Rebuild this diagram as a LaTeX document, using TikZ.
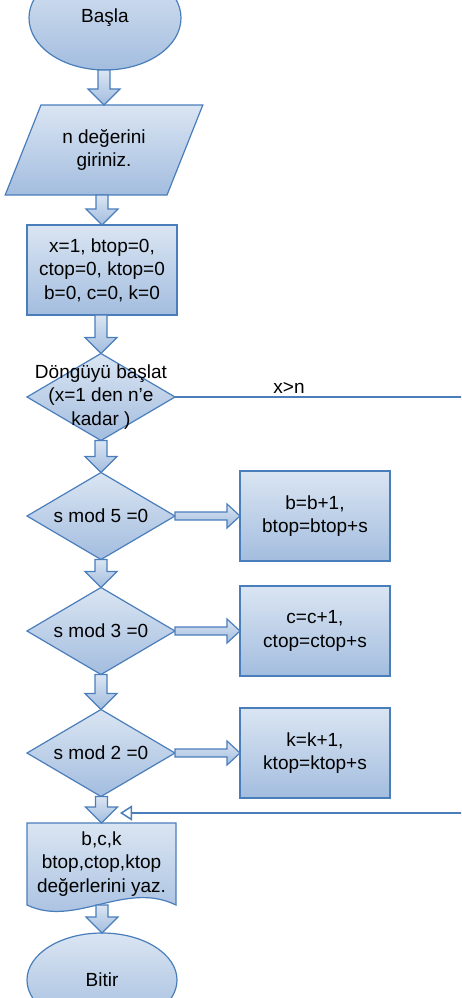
\documentclass[tikz,border=0pt]{standalone}
\usepackage{fontspec}
\setmainfont{Liberation Sans}
\usetikzlibrary{shapes.geometric, arrows.meta, positioning, calc, backgrounds}

\definecolor{shapetop}{HTML}{DAE5F2}
\definecolor{shapebot}{HTML}{A3BDDF}
\definecolor{shapeline}{HTML}{4A7EBB}

% fat hollow arrows between the blocks
\newcommand{\vblock}[2]{%
  \draw[blockarrow] let \p1=(#1.south), \p2=(#2.north) in
    (\x2-6pt,\y1) -- (\x2+6pt,\y1) -- (\x2+6pt,\y2+16pt) -- (\x2+16pt,\y2+16pt)
    -- (\x2,\y2) -- (\x2-16pt,\y2+16pt) -- (\x2-6pt,\y2+16pt) -- cycle;}
\newcommand{\hblock}[2]{%
  \draw[blockarrow] let \p1=(#1.east), \p2=(#2.west) in
    (\x1,\y2+4pt) -- (\x1,\y2-4pt) -- (\x2-13pt,\y2-4pt) -- (\x2-13pt,\y2-12pt)
    -- (\x2,\y2) -- (\x2-13pt,\y2+12pt) -- (\x2-13pt,\y2+4pt) -- cycle;}

\begin{document}
\begin{tikzpicture}[x=1pt, y=-1pt,
    every node/.style={font=\fontsize{19}{23.5}\selectfont, align=center},
    shaded/.style={draw=shapeline, line width=1.2pt, top color=shapetop, bottom color=shapebot, outer sep=0pt},
    terminal/.style={shaded, ellipse},
    io/.style={shaded, trapezium, trapezium left angle=62, trapezium right angle=118, trapezium stretches=true},
    process/.style={shaded, rectangle, minimum width=150pt, minimum height=90pt},
    decision/.style={shaded, diamond, inner sep=0pt, minimum width=148pt, minimum height=87pt},
    blockarrow/.style={draw=shapeline, line width=1.2pt, top color=shapetop, bottom color=shapebot, line join=miter},
    flowline/.style={draw=shapeline, line width=1.5pt}]
        \useasboundingbox (0,0) rectangle (461,998);
        \clip (0,0) rectangle (461,998);

        % Draw the blocks
        \node (start) [terminal, minimum width=152pt, minimum height=104pt] at (105,18) {Başla};
        \node (inp)   [io, minimum width=198pt, minimum height=90pt] at (104,150) {n değerini\\giriniz.};
        \node (init)  [process] at (102,270) {x=1, btop=0,\\ctop=0, ktop=0\\b=0, c=0, k=0};
        \node (loop)  [decision, label={center:Döngüyü başlat\\(x=1 den n'e\\kadar )}] at (101,397) {};
        \node (mod5)  [decision, label={center:s mod 5 =0}] at (101,516) {};
        \node (mod3)  [decision, label={center:s mod 3 =0}] at (101,631) {};
        \node (mod2)  [decision, label={center:s mod 2 =0}] at (101,753) {};
        \node (incb)  [process, right=65pt of mod5] {b=b+1,\\btop=btop+s};
        \node (incc)  [process, right=65pt of mod3] {c=c+1,\\ctop=ctop+s};
        \node (inck)  [process, right=65pt of mod2] {k=k+1,\\ktop=ktop+s};
        \node (out)   [minimum width=149pt, minimum height=82pt, outer sep=0pt] at (101.5,864) {b,c,k\\btop,ctop,ktop\\değerlerini yaz.};
        \node (stop)  [terminal, minimum width=150pt, minimum height=94pt] at (102,980) {Bitir};

        % document shape behind the output text
        \begin{pgfonlayer}{background}
        \draw[shaded] (out.north west) -- (out.north east) -- (out.south east)
            .. controls ($(out.south east)+(-51,-25)$) and ($(out.south west)+(48,23)$) .. (out.south west) -- cycle;
        \end{pgfonlayer}

        % Draw the connecting arrows
        \vblock{start}{inp}
        \vblock{inp}{init}
        \vblock{init}{loop}
        \vblock{loop}{mod5}
        \vblock{mod5}{mod3}
        \vblock{mod3}{mod2}
        \vblock{mod2}{out}
        \vblock{out}{stop}
        \hblock{mod5}{incb}
        \hblock{mod3}{incc}
        \hblock{mod2}{inck}

        % loop exit and return line
        \coordinate (exitR) at (475,397);
        \coordinate (join) at (120,813);
        \draw[flowline, -{Triangle[open, length=12pt, width=15pt]}] (loop.east) -- node [above, pos=0.38, inner sep=3pt] {x>n} (exitR) |- (join);
    \end{tikzpicture}
\end{document}
